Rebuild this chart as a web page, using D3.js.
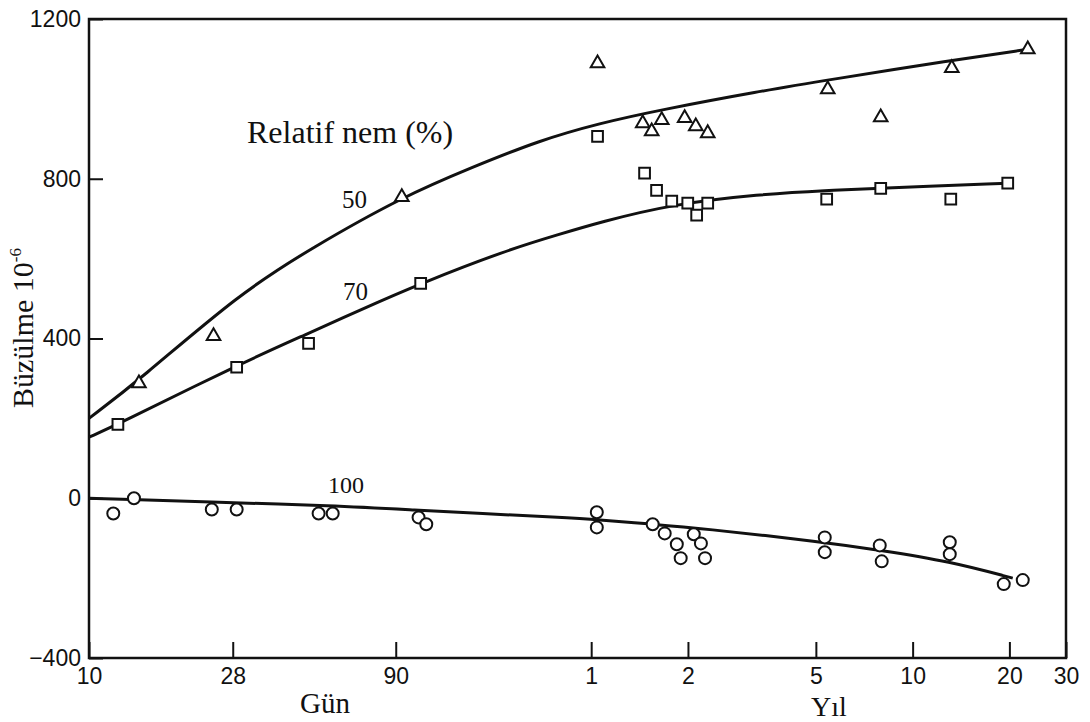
<!DOCTYPE html>
<html>
<head>
<meta charset="utf-8">
<script src="https://cdn.jsdelivr.net/npm/d3@7"></script>
<style>
  html, body { margin: 0; padding: 0; background: #fff; }
  svg { display: block; font-family: "Liberation Serif", "Times New Roman", serif; }
  .tick text { font-size: 23px; fill: #111; }
  .tick line { stroke: #111; stroke-width: 2; }
</style>
</head>
<body>
<svg id="chart" width="1090" height="722"></svg>
<script>
// Shrinkage vs. time under load at three relative humidities (50 / 70 / 100 %).
// x is time in days on a log axis; the lower labels switch from days to years
// after 90 days, so tick values are days and tick labels are what the figure prints.

const xTickDays   = [10, 28, 90, 365, 730, 1825, 3650, 7300, 10950];
const xTickLabels = ["10", "28", "90", "1", "2", "5", "10", "20", "30"];
const yTicks      = [-400, 0, 400, 800, 1200];

// measured points: [days, shrinkage x 1e-6]
const rh50Obs = [
  [14.3, 288], [24.4, 406], [94, 754], [382, 1089], [528, 939], [563, 919],
  [605, 947], [713, 952], [772, 931], [841, 914], [1987, 1024], [2904, 954],
  [4831, 1077], [8327, 1124]
];
const rh70Obs = [
  [12.3, 185], [28.8, 328], [48.2, 388], [107.6, 538], [382, 906], [535, 814],
  [583, 771], [650, 744], [729, 739], [777, 709], [841, 739], [1972, 749],
  [2904, 776], [4797, 749], [7214, 789]
];
const rh100Obs = [
  [11.9, -38], [13.8, 0], [24.1, -28], [28.8, -28], [51.8, -38], [57.3, -38],
  [106, -48], [112, -65], [380, -35], [380, -73], [567, -65], [618, -88],
  [674, -115], [693, -150], [761, -90], [801, -113], [825, -150], [1945, -98],
  [1945, -135], [2884, -118], [2925, -158], [4762, -110], [4762, -140],
  [7011, -215], [8033, -205]
];

// fitted curves
const rh50Curve = [
  [10, 200], [14.3, 295], [29.4, 513], [49.6, 628], [94, 754], [156, 829],
  [252, 896], [388, 939], [596, 972], [1220, 1019], [1987, 1047], [4831, 1097],
  [8327, 1124]
];
const rh70Curve = [
  [10, 153], [12.3, 185], [28.8, 333], [48.2, 413], [69.5, 471], [107.6, 538],
  [199, 621], [291, 661], [388, 691], [650, 736], [1220, 761], [1972, 771],
  [2904, 776], [7214, 789]
];
const rh100Curve = [
  [10, 0], [13.8, -3], [24.1, -10], [57.3, -18], [106, -30], [164, -38],
  [291, -48], [380, -53], [567, -65], [794, -75], [1945, -110], [2884, -130],
  [4762, -158], [7477, -200]
];

const svg = d3.select("#chart");
const frame = { left: 89, right: 1066, top: 19, bottom: 658 };

const x = d3.scaleLog().domain([10, 10950]).range([frame.left, frame.right]);
const y = d3.scaleLinear().domain([-400, 1200]).range([frame.bottom, frame.top]);

// ---- axes: ticks point inward, the frame itself is drawn as a rect ----
svg.append("g")
  .attr("transform", `translate(0,${frame.bottom})`)
  .call(d3.axisBottom(x)
    .tickValues(xTickDays)
    .tickFormat((d, i) => xTickLabels[i])
    .tickSizeInner(-16).tickSizeOuter(0).tickPadding(10))
  .call(g => g.select(".domain").remove());

svg.append("g")
  .attr("transform", `translate(${frame.left},0)`)
  .call(d3.axisLeft(y)
    .tickValues(yTicks)
    .tickFormat(d => d < 0 ? "\u2212" + Math.abs(d) : d)
    .tickSizeInner(-14).tickSizeOuter(0).tickPadding(8))
  .call(g => g.select(".domain").remove());

svg.append("rect")
  .attr("x", frame.left).attr("y", frame.top)
  .attr("width", frame.right - frame.left).attr("height", frame.bottom - frame.top)
  .attr("fill", "none").attr("stroke", "#111").attr("stroke-width", 2.5);

// ---- curves (basis keeps them smooth like the hand-drawn fits) ----
const line = d3.line()
  .x(d => x(d[0])).y(d => y(d[1]))
  .curve(d3.curveBasis);

[rh50Curve, rh70Curve, rh100Curve].forEach(c => {
  svg.append("path").attr("d", line(c))
    .attr("fill", "none").attr("stroke", "#111").attr("stroke-width", 3);
});

// ---- markers: triangle = 50 %, square = 70 %, circle = 100 % ----
const tri = d3.symbol(d3.symbolTriangle, 80);
const sq = d3.symbol(d3.symbolSquare, 115);

svg.append("g").selectAll("path").data(rh50Obs).join("path")
  .attr("transform", d => `translate(${x(d[0])},${y(d[1])})`)
  .attr("d", tri).attr("fill", "#fff").attr("stroke", "#111").attr("stroke-width", 2);

svg.append("g").selectAll("path").data(rh70Obs).join("path")
  .attr("transform", d => `translate(${x(d[0])},${y(d[1])})`)
  .attr("d", sq).attr("fill", "#fff").attr("stroke", "#111").attr("stroke-width", 2);

svg.append("g").selectAll("circle").data(rh100Obs).join("circle")
  .attr("cx", d => x(d[0])).attr("cy", d => y(d[1])).attr("r", 6)
  .attr("fill", "#fff").attr("stroke", "#111").attr("stroke-width", 2);

// ---- labels ----
const label = (txt, px, py, size, anchor) => svg.append("text")
  .attr("x", px).attr("y", py).attr("font-size", size)
  .attr("text-anchor", anchor || "start").attr("fill", "#111").text(txt);

label("Relatif nem (%)", 247, 143, 32);
label("50", 342, 208, 25);
label("70", 343, 300, 25);
label("100", 328, 493, 24);
label("Gün", 325, 713, 29, "middle");
label("Yıl", 829, 716, 28, "middle");

const yl = svg.append("text")
  .attr("transform", "translate(33,408) rotate(-90)")
  .attr("font-size", 30).attr("fill", "#111");
yl.append("tspan").text("Büzülme 10");
yl.append("tspan").attr("font-size", 17).attr("dy", -12).text("-6");
</script>
</body>
</html>
